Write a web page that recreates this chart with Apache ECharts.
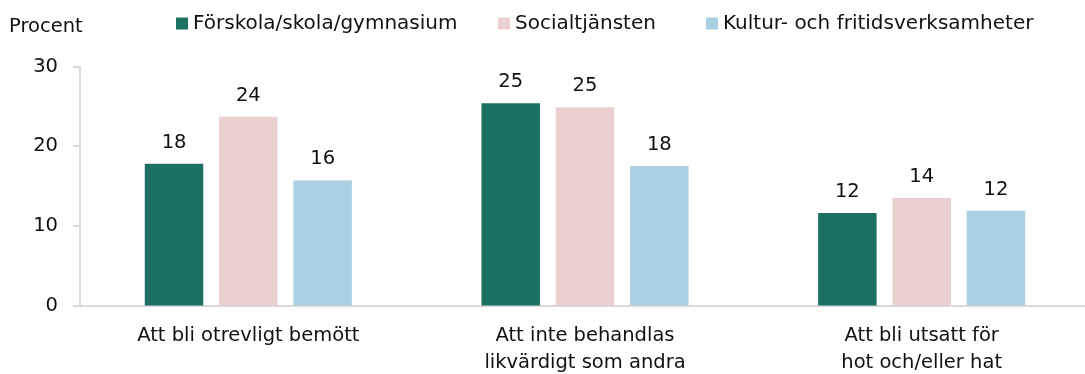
<!DOCTYPE html>
<html>
<head>
<meta charset="utf-8">
<script src="https://cdn.jsdelivr.net/npm/echarts@6/dist/echarts.min.js"></script>
<style>
  html, body { margin: 0; padding: 0; background: #ffffff; }
  #chart { width: 1085px; height: 374px; }
</style>
</head>
<body>
<div id="chart"></div>
<script>
// Categories (two-line labels where wrapped)
const categories = [
  'Att bli otrevligt bemött',
  'Att inte behandlas\nlikvärdigt som andra',
  'Att bli utsatt för\nhot och/eller hat'
];

// Series names and values (percent)
const seriesNames = ['Förskola/skola/gymnasium', 'Socialtjänsten', 'Kultur- och fritidsverksamheter'];
const skolaValues = [17.8, 25.4, 11.6];
const socialValues = [23.7, 24.9, 13.5];
const kulturValues = [15.7, 17.5, 11.9];

// Y axis ticks
const yTicks = [0, 10, 20, 30];

const colors = ['#1c7064', '#ebd0d1', '#abd0e2'];
const FONT = 'DejaVu Sans';
const TEXT = '#111111';

const chart = echarts.init(document.getElementById('chart'), null, { renderer: 'canvas' });

function barSeries(name, data, color) {
  return {
    name: name,
    type: 'bar',
    data: data,
    barWidth: 58.5,
    barGap: '27%',
    itemStyle: { color: color },
    label: {
      show: true,
      position: 'top',
      distance: 11,
      fontFamily: FONT,
      fontSize: 19.5,
      color: TEXT,
      formatter: p => Math.round(p.value)
    }
  };
}

// One legend block per series so each entry sits at its own x position
const legendLefts = [171, 493, 701];
const legends = seriesNames.map((name, i) => ({
  left: legendLefts[i],
  top: 8.5,
  itemWidth: 12,
  itemHeight: 12,
  icon: 'rect',
  textStyle: { fontFamily: FONT, fontSize: 20, color: TEXT },
  data: [name]
}));

chart.setOption({
  animation: false,
  textStyle: { fontFamily: FONT },
  title: {
    text: 'Procent',
    left: 4,
    top: 12,
    textStyle: { fontFamily: FONT, fontSize: 19.5, fontWeight: 'normal', color: TEXT }
  },
  legend: legends,
  grid: { left: 80, top: 66.5, bottom: 68.5, width: 1010, outerBoundsMode: 'none', containLabel: false },
  xAxis: {
    type: 'category',
    data: categories,
    axisLine: { lineStyle: { color: '#d9d9d9', width: 2 } },
    axisTick: { show: false },
    axisLabel: {
      fontFamily: FONT,
      fontSize: 19.5,
      lineHeight: 27,
      color: TEXT,
      margin: 17,
      interval: 0
    }
  },
  yAxis: {
    type: 'value',
    min: yTicks[0],
    max: yTicks[yTicks.length - 1],
    interval: 10,
    axisLine: { show: true, lineStyle: { color: '#d9d9d9', width: 2 } },
    axisTick: { show: true, length: 7, lineStyle: { color: '#d9d9d9', width: 2 } },
    splitLine: { show: false },
    axisLabel: {
      fontFamily: FONT,
      fontSize: 19.5,
      color: TEXT,
      margin: 22
    }
  },
  series: [
    barSeries(seriesNames[0], skolaValues, colors[0]),
    barSeries(seriesNames[1], socialValues, colors[1]),
    barSeries(seriesNames[2], kulturValues, colors[2])
  ]
});
</script>
</body>
</html>
